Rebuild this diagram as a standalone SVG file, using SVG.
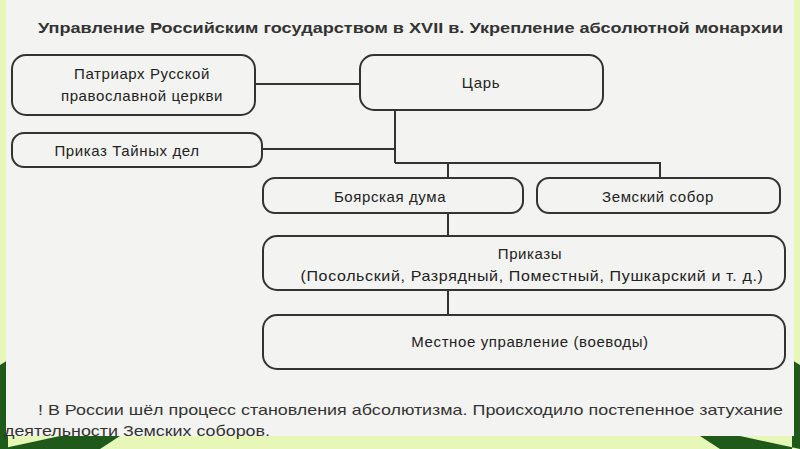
<svg xmlns="http://www.w3.org/2000/svg" width="800" height="449" viewBox="0 0 800 449">
<style>
.n{fill:none;stroke:#333;stroke-width:2}
.t{font-family:"Liberation Sans",Arial,sans-serif;font-size:15px;fill:#222;text-anchor:middle;letter-spacing:0.6px}
.c{stroke:#333;stroke-width:2;fill:none}
.p{font-family:"Liberation Sans",Arial,sans-serif;font-size:15px;fill:#333}
</style>
<rect width="800" height="449" fill="#e6f7b8"/>
<path d="M0 365L8 360V449H0Z M792 360L800 365V449H792Z M0 449L60 436H120L100 449Z M800 449L740 436H700L720 449Z" fill="#1f5a1a"/>
<rect x="6" y="0" width="788" height="436" fill="#f3f3f1"/>
<text x="38" y="33" textLength="745" lengthAdjust="spacingAndGlyphs" style="font-family:'Liberation Sans',Arial,sans-serif;font-size:15px;font-weight:bold;fill:#333">Управление Российским государством в XVII в. Укрепление абсолютной монархии</text>
<g id="connectors">
<path class="c" d="M255 84H360M395 110V163M262 149H395M395 163H660V178M448 163V178M448 213V236M448 290V315"/>
</g>
<g id="patriarch"><rect class="n" x="12" y="55" width="243" height="60" rx="14"/><text class="t" x="142" y="79">Патриарх Русской</text><text class="t" x="142" y="101">православной церкви</text></g>
<g id="tsar"><rect class="n" x="360" y="55" width="243" height="55" rx="14"/><text class="t" x="481" y="88">Царь</text></g>
<g id="prikaz-tainykh"><rect class="n" x="12" y="133" width="250" height="34" rx="12"/><text class="t" x="127" y="156">Приказ Тайных дел</text></g>
<g id="duma"><rect class="n" x="263" y="178" width="260" height="35" rx="12"/><text class="t" x="390" y="202">Боярская дума</text></g>
<g id="sobor"><rect class="n" x="537" y="178" width="243" height="35" rx="12"/><text class="t" x="658" y="202">Земский собор</text></g>
<g id="prikazy"><rect class="n" x="263" y="236" width="522" height="54" rx="14"/><text class="t" x="530" y="259">Приказы</text><text class="t" x="532" y="281" textLength="463" lengthAdjust="spacingAndGlyphs">(Посольский, Разрядный, Поместный, Пушкарский и т. д.)</text></g>
<g id="mestnoe"><rect class="n" x="263" y="315" width="522" height="54" rx="14"/><text class="t" x="530" y="347">Местное управление (воеводы)</text></g>
<text class="p" x="38" y="415" textLength="745" lengthAdjust="spacingAndGlyphs">! В России шёл процесс становления абсолютизма. Происходило постепенное затухание</text>
<text class="p" x="4" y="436" textLength="266" lengthAdjust="spacingAndGlyphs">деятельности Земских соборов.</text>
</svg>
